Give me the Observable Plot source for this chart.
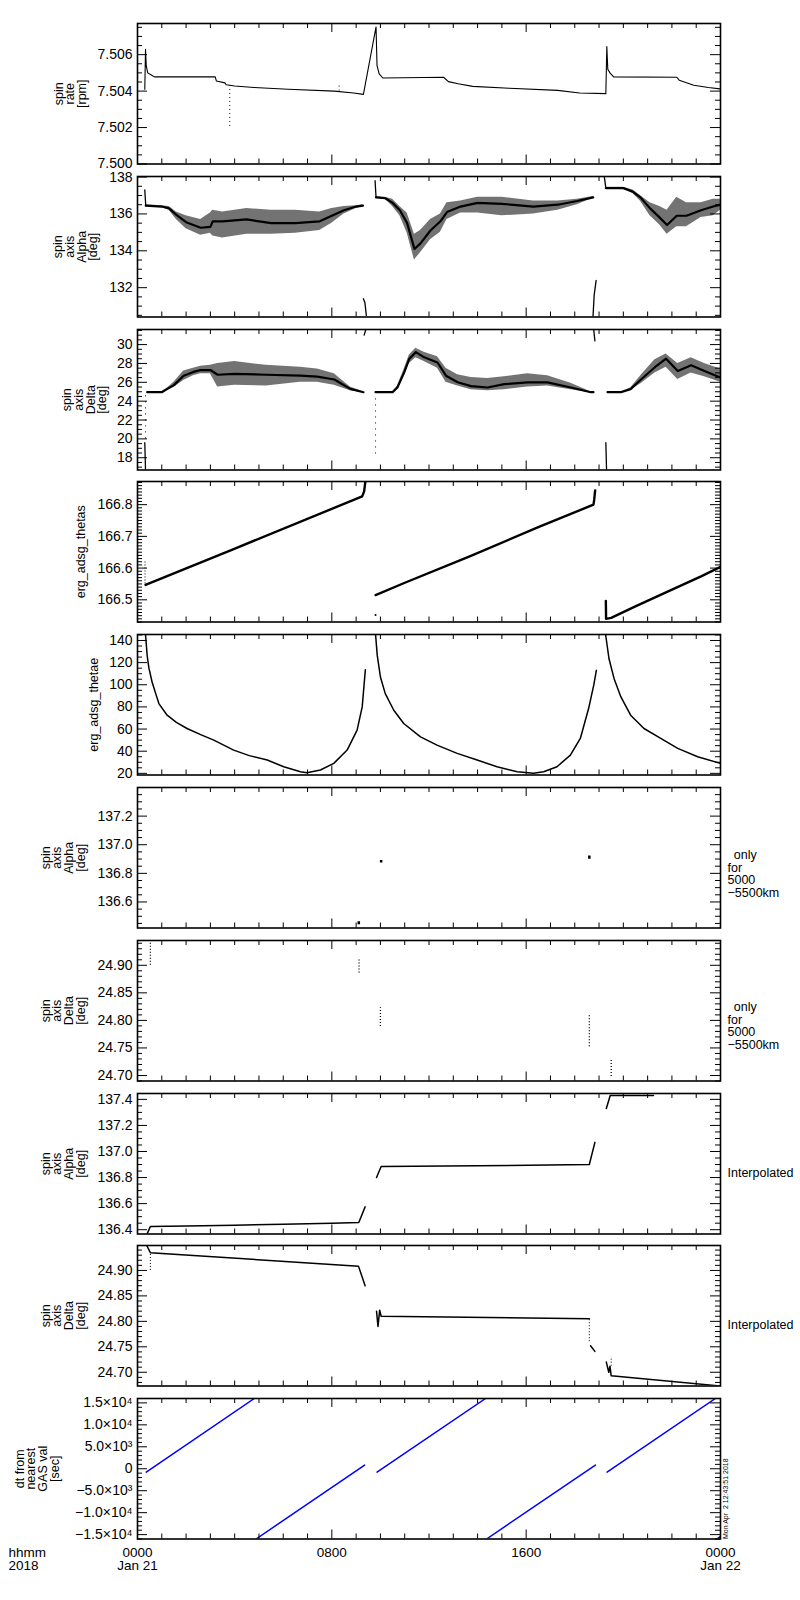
<!DOCTYPE html>
<html>
<head>
<meta charset="utf-8">
<script src="https://cdn.jsdelivr.net/npm/d3@7"></script>
<script src="https://cdn.jsdelivr.net/npm/@observablehq/plot@0.6"></script>
<style>
  body { margin: 0; background: #fff; }
  #chart { position: relative; width: 800px; height: 1600px; background: #fff; }
  #chart svg { position: absolute; left: 0; overflow: visible; }
</style>
</head>
<body>
<div id="chart"></div>
<script>
// ---------------- DATA ----------------
// time axis (hours of 2018 Jan 21)
const xMajorHours = [0, 8, 16, 24];
const xTickLabels = ["0000\nJan 21", "0800", "1600", "0000\nJan 22"];
const xCornerLabel = "hhmm\n2018";
const stamp = "Mon Apr  2 12:43:51 2018";

// Panel 1: spin rate [rpm]
const rateTicks = [7.500, 7.502, 7.504, 7.506];
const rateTickLabels = ["7.500", "7.502", "7.504", "7.506"];
const rate = [[0.30,7.5041],[0.33,7.5063],[0.36,7.5054],[0.42,7.5050],[0.55,7.5049],[0.70,7.50478],[3.20,7.50478],[3.25,7.50455],[3.60,7.50445],[3.65,7.50435],[4.00,7.50428],[4.80,7.50420],[6.20,7.50410],[8.10,7.50400],[8.90,7.50390],[9.30,7.50382],
  [9.82,7.50752],[9.86,7.50540],[9.95,7.50495],[10.10,7.50472],[12.60,7.50476],[12.80,7.50452],[13.20,7.50440],[13.80,7.50426],[15.30,7.50416],[17.30,7.50404],[18.20,7.50390],[19.28,7.50386],
  [19.32,7.50644],[19.36,7.50520],[19.45,7.50500],[19.60,7.50478],[22.20,7.50476],[22.30,7.50460],[22.60,7.50446],[22.90,7.50432],[23.50,7.50420],[24.00,7.50412]];
const rateDrops = [[3.80, 7.50206, 7.50428], [8.30, 7.50400, 7.50430]];

// Panel 2: spin axis Alpha [deg]  rows: [hour, low, centre, high]
const alphaTicks = [132, 134, 136, 138];
const alphaTickLabels = ["132", "134", "136", "138"];
const alphaA = [[0.34,136.40,136.45,136.50],[1.00,136.35,136.40,136.45],[1.30,136.20,136.30,136.40],[1.60,135.70,135.95,136.10],[2.00,135.20,135.55,135.90],[2.60,134.85,135.25,135.70],[3.00,134.95,135.30,136.05],[3.10,134.80,135.60,136.20],[3.50,134.70,135.60,136.10],[4.50,134.90,135.70,136.30],[5.50,134.90,135.50,136.20],[6.50,134.95,135.50,136.20],[7.50,135.10,135.60,136.10],[8.00,135.50,135.90,136.30],[8.50,136.00,136.20,136.40],[9.00,136.30,136.40,136.45],[9.28,136.40,136.45,136.50]];
const alphaB = [[9.82,136.85,136.90,136.95],[10.20,136.80,136.85,136.90],[10.50,136.40,136.60,136.80],[10.80,135.90,136.20,136.40],[11.10,134.96,135.50,136.05],[11.40,133.50,134.10,134.90],[11.65,133.90,134.40,135.10],[12.06,134.60,135.10,135.70],[12.47,135.00,135.60,136.00],[12.74,135.70,136.10,136.60],[13.30,136.05,136.40,136.70],[14.00,136.05,136.60,136.90],[15.00,135.90,136.55,136.90],[16.30,136.00,136.40,136.70],[17.30,136.20,136.50,136.70],[18.10,136.50,136.70,136.80],[18.76,136.85,136.90,136.95]];
const alphaC = [[19.28,137.35,137.40,137.45],[20.00,137.35,137.40,137.45],[20.40,137.10,137.20,137.30],[20.70,136.70,136.90,137.00],[21.10,135.90,136.30,136.60],[21.50,135.40,135.80,136.40],[21.80,134.90,135.40,136.20],[22.20,135.30,135.90,136.90],[22.60,135.30,135.90,136.60],[23.20,135.80,136.20,136.60],[23.70,135.90,136.40,136.80],[24.00,136.20,136.50,136.80]];
const alphaExtra = [[[0.30,137.30],[0.34,136.45]], [[9.78,137.80],[9.82,136.90]], [[19.22,138.00],[19.28,137.40]], [[9.30,131.40],[9.36,131.20],[9.42,130.50]], [[18.75,130.40],[18.80,131.60],[18.88,132.40]]];

// Panel 3: spin axis Delta [deg]
const deltaTicks = [18, 20, 22, 24, 26, 28, 30];
const deltaTickLabels = ["18", "20", "22", "24", "26", "28", "30"];
const deltaA = [[0.40,24.90,24.95,25.00],[1.00,24.90,24.95,25.00],[1.23,25.15,25.30,25.40],[1.50,25.45,25.70,26.00],[1.90,26.20,26.70,27.20],[2.30,26.70,27.10,27.50],[2.60,26.90,27.30,27.70],[3.00,26.90,27.30,27.80],[3.30,25.50,26.80,28.00],[4.00,25.70,26.90,28.20],[5.30,25.60,26.80,27.80],[6.70,26.00,26.70,27.60],[7.40,26.00,26.60,27.40],[8.10,25.70,26.30,26.90],[8.76,25.10,25.30,25.50],[9.30,24.90,24.95,25.00]];
const deltaB = [[9.80,24.90,24.95,25.00],[10.50,24.90,24.95,25.00],[10.70,25.30,25.45,25.60],[10.98,26.70,27.05,27.40],[11.19,28.00,28.50,28.90],[11.46,28.60,29.20,29.60],[11.80,28.20,28.65,29.20],[12.35,27.50,28.10,28.70],[12.70,26.00,26.70,27.50],[13.18,25.60,26.00,26.80],[13.73,25.20,25.60,26.50],[14.41,25.10,25.45,26.40],[15.10,25.20,25.80,26.60],[16.06,25.50,26.00,26.90],[16.88,25.60,26.00,26.70],[17.84,25.20,25.45,25.90],[18.66,24.90,24.95,25.00],[18.77,24.90,24.95,25.00]];
const deltaC = [[19.35,24.90,24.95,25.00],[19.90,24.90,24.95,25.00],[20.30,25.15,25.28,25.40],[20.75,25.90,26.35,26.80],[21.30,27.00,27.60,28.40],[21.76,27.60,28.50,29.00],[22.24,26.30,27.20,28.00],[22.79,27.00,27.80,28.60],[23.34,26.60,27.20,28.00],[24.00,26.00,26.50,27.40]];
const deltaExtra = [[[0.30,19.60],[0.33,16.70]], [[9.33,31.00],[9.40,31.60]], [[18.78,31.60],[18.83,30.40]], [[19.28,19.60],[19.31,16.70]]];
const deltaDots = [[0.33, 20.0, 24.6], [9.80, 18.4, 24.6]];

// Panel 4: erg_adsg_thetas
const thetasTicks = [166.5, 166.6, 166.7, 166.8];
const thetasTickLabels = ["166.5", "166.6", "166.7", "166.8"];
const thetas = [
  [[0.33,166.547],[3.96,166.660],[9.25,166.826],[9.33,166.842],[9.38,166.873]],
  [[9.80,166.515],[10.98,166.553],[13.70,166.638],[16.50,166.729],[18.77,166.800],[18.80,166.815],[18.84,166.845]],
  [[19.28,166.496],[19.29,166.440],[19.50,166.443],[20.43,166.477],[21.80,166.525],[23.20,166.574],[24.00,166.604]]];
const thetasDots = [[0.31, 166.550, 166.620]];
const thetasPoint = [[9.80, 166.452]];

// Panel 5: erg_adsg_thetae
const thetaeTicks = [20, 40, 60, 80, 100, 120, 140];
const thetaeTickLabels = ["20", "40", "60", "80", "100", "120", "140"];
const thetae = [
  [[0.33,145.4],[0.40,126],[0.47,115],[0.60,102.5],[0.75,92],[0.88,83],[1.22,72.5],[1.60,66],[2.04,60.5],[2.60,55],[3.14,50],[3.96,41],[4.60,36],[5.34,32],[6.02,26],[6.71,21.5],[6.98,20.6],[7.53,23],[8.08,29],[8.63,41],[9.04,59],[9.25,80],[9.38,113.6]],
  [[9.80,145.4],[9.87,126.5],[10.00,107],[10.20,92],[10.55,77],[10.96,65],[11.65,53],[12.33,45.5],[13.16,38],[13.98,32],[14.80,26],[15.63,21.5],[16.30,20],[16.72,21.5],[17.27,26],[17.82,36.5],[18.23,51.5],[18.57,78.5],[18.78,99.5],[18.89,113]],
  [[19.27,145.4],[19.41,123.5],[19.62,105.5],[19.90,89],[20.30,72.5],[20.85,60.5],[21.54,51.5],[22.24,42.5],[23.06,35],[24.00,29]]];

// Panel 6: spin axis Alpha, only for 5000-5500 km
const alpha5Ticks = [136.6, 136.8, 137.0, 137.2];
const alpha5TickLabels = ["136.6", "136.8", "137.0", "137.2"];
const alpha5 = [[9.11, 136.440, 136.462], [10.03, 136.872, 136.890], [18.60, 136.898, 136.922]];

// Panel 7: spin axis Delta, only for 5000-5500 km
const delta5Ticks = [24.70, 24.75, 24.80, 24.85, 24.90];
const delta5TickLabels = ["24.70", "24.75", "24.80", "24.85", "24.90"];
const delta5 = [[0.53, 24.900, 24.944], [9.12, 24.886, 24.912], [10.00, 24.789, 24.823], [18.60, 24.752, 24.810], [19.50, 24.698, 24.728]];

// Panel 8: spin axis Alpha, interpolated
const alphaITicks = [136.4, 136.6, 136.8, 137.0, 137.2, 137.4];
const alphaITickLabels = ["136.4", "136.6", "136.8", "137.0", "137.2", "137.4"];
const alphaI = [
  [[0.40,136.370],[0.53,136.425],[2.00,136.428],[4.00,136.435],[6.00,136.442],[8.00,136.450],[9.11,136.455],[9.37,136.575]],
  [[9.84,136.800],[10.03,136.885],[14.00,136.890],[18.60,136.900],[18.83,137.070]],
  [[19.30,137.330],[19.46,137.430],[21.24,137.430]]];

// Panel 9: spin axis Delta, interpolated
const deltaITicks = [24.70, 24.75, 24.80, 24.85, 24.90];
const deltaITickLabels = ["24.70", "24.75", "24.80", "24.85", "24.90"];
const deltaI = [
  [[0.38,24.949],[0.53,24.935],[9.10,24.908],[9.37,24.870]],
  [[9.84,24.820],[9.90,24.790],[9.97,24.822],[10.03,24.810],[18.60,24.805]],
  [[18.65,24.752],[18.83,24.741]],
  [[19.30,24.720],[19.40,24.700],[19.45,24.712],[19.50,24.693],[24.00,24.673]]];
const deltaIDots = [[0.53, 24.900, 24.935], [18.60, 24.760, 24.805], [19.50, 24.712, 24.730]];

// Panel 10: dt from nearest GAS val [sec]
const dtTicks = [-15000, -10000, -5000, 0, 5000, 10000, 15000];
const dtTickLabels = ["\u22121.5\u00d710\u2074", "\u22121.0\u00d710\u2074", "\u22125.0\u00d710\u00b3", "0", "5.0\u00d710\u00b3", "1.0\u00d710\u2074", "1.5\u00d710\u2074"];
const dt = [
  [[0.36,-760],[4.81,16000]],
  [[4.88,-16000],[9.35,830]],
  [[9.86,-760],[14.33,16000]],
  [[14.37,-16000],[18.85,830]],
  [[19.33,-760],[23.79,16000]],
  [[23.85,-16000],[24.00,-15400]]];

// ---------------- LAYOUT ----------------
const W = 800, FL = 137, FR = 720, IW = FR - FL;
const PH = 140.5, STEP = 152.8, TOP0 = 23;
const FONT = "'Liberation Sans', Arial, Helvetica, sans-serif";
const root = document.getElementById("chart");

const segRows = segs => segs.flatMap((s, k) => s.map(([h, v]) => ({h, v, k})));
const bandRows = segs => segs.flatMap((s, k) => s.map(([h, lo, c, hi]) => ({h, lo, c, hi, k})));
const ruleRows = arr => arr.map(([h, lo, hi]) => ({h, lo, hi}));

function minorTicks(domain, step, majors) {
  const out = [];
  const k0 = Math.ceil(domain[0] / step - 1e-6), k1 = Math.floor(domain[1] / step + 1e-6);
  for (let k = k0; k <= k1; k++) {
    const v = +(k * step).toFixed(6);
    if (!majors.some(m => Math.abs(m - v) < step * 1e-3)) out.push(v);
  }
  return out;
}

function bandMarks(segs) {
  const rows = bandRows(segs);
  return [
    Plot.areaY(rows, {x: "h", y1: "lo", y2: "hi", z: "k", fill: "black", fillOpacity: 0.55, clip: true}),
    Plot.line(rows, {x: "h", y: "c", z: "k", stroke: "black", strokeWidth: 2.2, clip: true})
  ];
}
const lineMark = (segs, opts = {}) => Plot.line(segRows(segs), {x: "h", y: "v", z: "k", stroke: "black", strokeWidth: 1.3, clip: true, ...opts});
const dotRule = (arr, opts = {}) => Plot.ruleX(ruleRows(arr), {x: "h", y1: "lo", y2: "hi", stroke: "black", strokeWidth: 1, strokeDasharray: "1,2", clip: true, ...opts});

const only5000 = "\u2002only\nfor\n5000\n\u22125500km";

const panels = [
  {title: "spin\nrate\n[rpm]", titleX: 70, domain: [7.5, 7.50771], major: rateTicks, labels: rateTickLabels, minor: 0.0005,
   marks: [lineMark([rate], {strokeWidth: 1.1}), dotRule(rateDrops, {strokeDasharray: "1,3"})]},
  {title: "spin\naxis\nAlpha\n[deg]", titleX: 75.5, domain: [130.41, 138.03], major: alphaTicks, labels: alphaTickLabels, minor: 0.5,
   marks: [...bandMarks([alphaA, alphaB, alphaC]), lineMark(alphaExtra, {strokeWidth: 1.3})]},
  {title: "spin\naxis\nDelta\n[deg]", titleX: 84.5, domain: [16.7, 31.6], major: deltaTicks, labels: deltaTickLabels, minor: 0.5,
   marks: [...bandMarks([deltaA, deltaB, deltaC]), lineMark(deltaExtra, {strokeWidth: 1.3}), dotRule(deltaDots, {strokeDasharray: "1,5"})]},
  {title: "erg_adsg_thetas", titleX: 81, domain: [166.43, 166.873], major: thetasTicks, labels: thetasTickLabels, minor: 0.01,
   marks: [lineMark(thetas, {strokeWidth: 2.4}), dotRule(thetasDots),
           Plot.dot(thetasPoint, {x: d => d[0], y: d => d[1], r: 1, fill: "black", stroke: null})]},
  {title: "erg_adsg_thetae", titleX: 94, domain: [18.5, 145.4], major: thetaeTicks, labels: thetaeTickLabels, minor: 5,
   marks: [lineMark(thetae, {strokeWidth: 1.5})]},
  {title: "spin\naxis\nAlpha\n[deg]", titleX: 63, domain: [136.418, 137.40], major: alpha5Ticks, labels: alpha5TickLabels, minor: 0.05,
   marks: [dotRule(alpha5, {strokeWidth: 2.5, strokeDasharray: null})], right: only5000, rightDy: 16},
  {title: "spin\naxis\nDelta\n[deg]", titleX: 63, domain: [24.69, 24.945], major: delta5Ticks, labels: delta5TickLabels, minor: 0.01,
   marks: [dotRule(delta5, {strokeWidth: 1.3})], right: only5000, rightDy: 15},
  {title: "spin\naxis\nAlpha\n[deg]", titleX: 63, domain: [136.367, 137.445], major: alphaITicks, labels: alphaITickLabels, minor: 0.05,
   marks: [lineMark(alphaI, {strokeWidth: 1.5})], right: "Interpolated", rightDy: 9},
  {title: "spin\naxis\nDelta\n[deg]", titleX: 63, domain: [24.673, 24.949], major: deltaITicks, labels: deltaITickLabels, minor: 0.01,
   marks: [lineMark(deltaI, {strokeWidth: 1.5}), dotRule(deltaIDots)], right: "Interpolated", rightDy: 9},
  {title: "dt from\nnearest\nGAS val\n[sec]", titleX: 37, domain: [-16000, 16000], major: dtTicks, labels: dtTickLabels, minor: 1000,
   marks: [lineMark(dt, {stroke: "#0000ff", strokeWidth: 1.5})]}
];

const xMinor = minorTicks([0, 24], 1, xMajorHours);

panels.forEach((cfg, i) => {
  const last = i === panels.length - 1;
  const mt = 4, mb = last ? 56 : 4;
  const yMinor = minorTicks(cfg.domain, cfg.minor, cfg.major);
  const marks = [
    ...cfg.marks,
    Plot.ruleY(cfg.major, {insetRight: IW - 10, stroke: "black"}),
    Plot.ruleY(cfg.major, {insetLeft: IW - 10, stroke: "black"}),
    Plot.ruleY(yMinor, {insetRight: IW - 5, stroke: "black"}),
    Plot.ruleY(yMinor, {insetLeft: IW - 5, stroke: "black"}),
    Plot.ruleX(xMajorHours, {insetTop: PH - 9, stroke: "black"}),
    Plot.ruleX(xMajorHours, {insetBottom: PH - 9, stroke: "black"}),
    Plot.ruleX(xMinor, {insetTop: PH - 5, stroke: "black"}),
    Plot.ruleX(xMinor, {insetBottom: PH - 5, stroke: "black"}),
    Plot.frame({stroke: "black", strokeWidth: 1.6}),
    Plot.axisY({ticks: cfg.major, tickSize: 0, tickPadding: 5, label: null,
                tickFormat: d => cfg.labels[cfg.major.indexOf(d)], fontSize: 14}),
    Plot.text([cfg.title], {text: d => d, frameAnchor: "left", dx: cfg.titleX - FL, rotate: -90,
                textAnchor: "middle", lineAnchor: "middle", lineHeight: 0.93, fontSize: 12.5})
  ];
  if (cfg.right) {
    marks.push(Plot.text([cfg.right], {text: d => d, frameAnchor: "right", dx: 7, dy: cfg.rightDy,
      textAnchor: "start", lineAnchor: "middle", lineHeight: 1.0, fontSize: 12.5}));
  }
  if (last) {
    marks.push(Plot.axisX({ticks: xMajorHours, tickSize: 0, tickPadding: 9, label: null, anchor: "bottom",
      tickFormat: d => xTickLabels[xMajorHours.indexOf(d)], lineHeight: 0.96, fontSize: 13.5}));
    marks.push(Plot.text([xCornerLabel], {text: d => d, frameAnchor: "bottom-left", dx: 8 - FL, dy: 9,
      textAnchor: "start", lineAnchor: "top", lineHeight: 0.96, fontSize: 13.5}));
    marks.push(Plot.text([stamp], {text: d => d, frameAnchor: "bottom-right", dx: 5, rotate: -90,
      textAnchor: "start", lineAnchor: "middle", fontSize: 7}));
  }
  const opts = {
    width: W, height: PH + mt + mb,
    marginLeft: FL, marginRight: W - FR, marginTop: mt, marginBottom: mb,
    x: {domain: [0, 24]},
    y: {domain: cfg.domain},
    style: {fontFamily: FONT, fontSize: "14px", color: "black", background: "transparent", overflow: "visible"},
    marks
  };
  if (!last) opts.x.axis = null;
  const svg = Plot.plot(opts);
  svg.style.position = "absolute";
  svg.style.top = (TOP0 + i * STEP - mt) + "px";
  svg.style.left = "0px";
  root.appendChild(svg);
});
</script>
</body>
</html>
